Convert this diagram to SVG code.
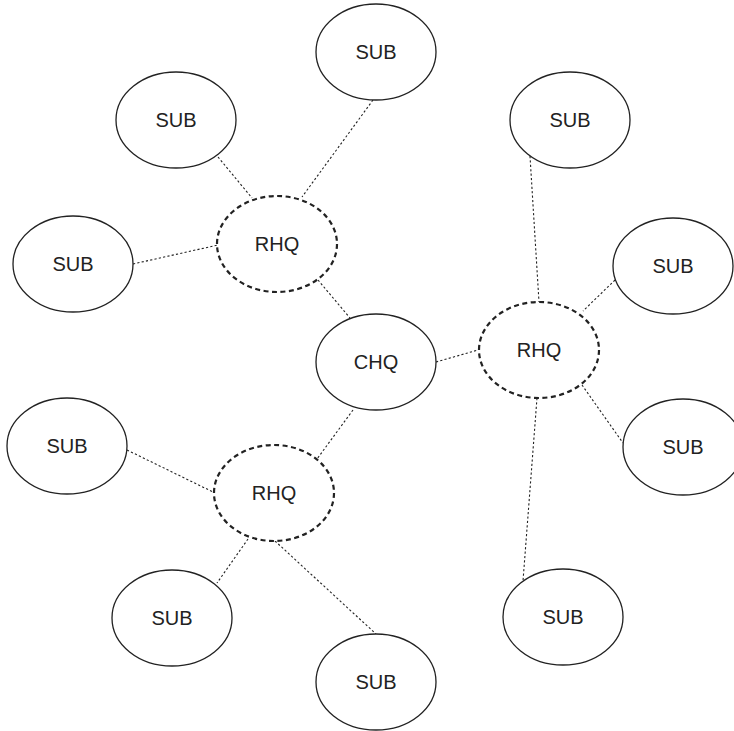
<svg xmlns="http://www.w3.org/2000/svg" width="734" height="731" viewBox="0 0 734 731">
<style>
.sub{fill:#fff;stroke:#222;stroke-width:1.3}
.rhq{fill:#fff;stroke:#222;stroke-width:2.2;stroke-dasharray:5 3.5}
.lbl{font-family:"Liberation Sans",Arial,sans-serif;font-size:20px;fill:#222;text-anchor:middle;dominant-baseline:central}
.con line{stroke:#222;stroke-width:1.1;stroke-dasharray:2.2 2.2}
</style>
<rect width="734" height="731" fill="#fff"/>
<g id="connectors" class="con">
<line x1="218" y1="157" x2="252" y2="198"/>
<line x1="373" y1="100" x2="302" y2="197"/>
<line x1="133" y1="264" x2="218" y2="245"/>
<line x1="318" y1="280" x2="350" y2="318"/>
<line x1="436" y1="362" x2="478" y2="350"/>
<line x1="353" y1="410" x2="317" y2="459"/>
<line x1="530" y1="156" x2="539" y2="302"/>
<line x1="615" y1="280" x2="583" y2="311"/>
<line x1="582" y1="385" x2="623" y2="443"/>
<line x1="537" y1="398" x2="523" y2="581"/>
<line x1="127" y1="450" x2="213" y2="492"/>
<line x1="248" y1="539" x2="217" y2="583"/>
<line x1="275" y1="541" x2="376" y2="634"/>
</g>
<g id="sub_top"><ellipse class="sub" cx="376" cy="52" rx="60" ry="48"/><text class="lbl" x="376" y="52">SUB</text></g>
<g id="sub_topleft"><ellipse class="sub" cx="176" cy="120" rx="60" ry="48"/><text class="lbl" x="176" y="120">SUB</text></g>
<g id="sub_left"><ellipse class="sub" cx="73" cy="264" rx="60" ry="48"/><text class="lbl" x="73" y="264">SUB</text></g>
<g id="rhq_topleft"><ellipse class="rhq" cx="277" cy="244" rx="60" ry="48"/><text class="lbl" x="277" y="244">RHQ</text></g>
<g id="chq"><ellipse class="sub" cx="376" cy="362" rx="60" ry="48"/><text class="lbl" x="376" y="362">CHQ</text></g>
<g id="rhq_right"><ellipse class="rhq" cx="539" cy="350" rx="60" ry="48"/><text class="lbl" x="539" y="350">RHQ</text></g>
<g id="sub_righttop"><ellipse class="sub" cx="570" cy="120" rx="60" ry="48"/><text class="lbl" x="570" y="120">SUB</text></g>
<g id="sub_right"><ellipse class="sub" cx="673" cy="266" rx="60" ry="48"/><text class="lbl" x="673" y="266">SUB</text></g>
<g id="sub_rightbottom"><ellipse class="sub" cx="683" cy="447" rx="60" ry="48"/><text class="lbl" x="683" y="447">SUB</text></g>
<g id="sub_bottomright"><ellipse class="sub" cx="563" cy="617" rx="60" ry="48"/><text class="lbl" x="563" y="617">SUB</text></g>
<g id="sub_leftbottom"><ellipse class="sub" cx="67" cy="446" rx="60" ry="48"/><text class="lbl" x="67" y="446">SUB</text></g>
<g id="rhq_bottom"><ellipse class="rhq" cx="274" cy="493" rx="60" ry="48"/><text class="lbl" x="274" y="493">RHQ</text></g>
<g id="sub_bottomleft"><ellipse class="sub" cx="172" cy="618" rx="60" ry="48"/><text class="lbl" x="172" y="618">SUB</text></g>
<g id="sub_bottom"><ellipse class="sub" cx="376" cy="682" rx="60" ry="48"/><text class="lbl" x="376" y="682">SUB</text></g>
</svg>
